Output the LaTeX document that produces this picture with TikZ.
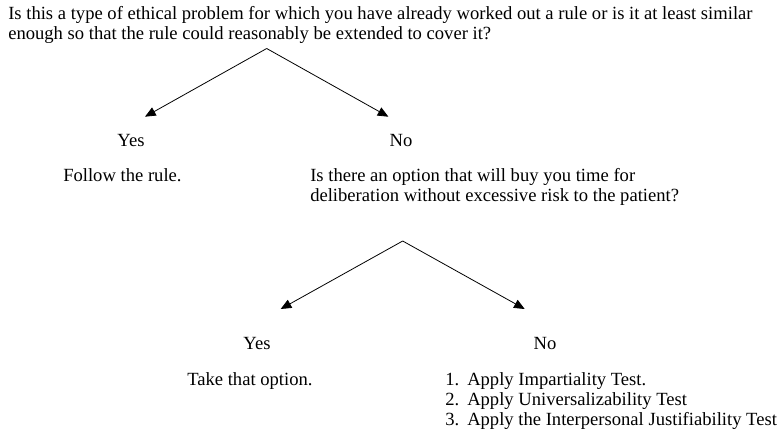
\documentclass[tikz,border=0pt]{standalone}
\usepackage{fontspec}
\setmainfont{Liberation Serif}
\usetikzlibrary{arrows.meta}
\begin{document}
\begin{tikzpicture}[x=0.75pt,y=-0.75pt,
  txt/.style={anchor=base west,inner sep=0pt,font=\fontsize{13.95pt}{15pt}\selectfont},
  lbl/.style={anchor=base,inner sep=0pt,font=\fontsize{13.95pt}{15pt}\selectfont},
  branch/.style={line width=0.6pt,-{Triangle[length=8pt,width=6.8pt]}}]
\useasboundingbox (0,0) rectangle (783,433);
% question 1
\node[txt] (q1a) at (8,19) {Is this a type of ethical problem for which you have already worked out a rule or is it at least similar};
\node[txt] (q1b) at (8,39) {enough so that the rule could reasonably be extended to cover it?};
\coordinate (apex1) at (266.7,48.5);
\coordinate (tipY1) at (145,116.7);
\coordinate (tipN1) at (388.4,116.7);
\draw[branch] (apex1) -- (tipY1);
\draw[branch] (apex1) -- (tipN1);
\node[lbl] (yes1) at (131,146) {Yes};
\node[lbl] (no1) at (401,146) {No};
\node[txt] (follow) at (63,181) {Follow the rule.};
% question 2
\node[txt] (q2a) at (310,181) {Is there an option that will buy you time for};
\node[txt] (q2b) at (310,201) {deliberation without excessive risk to the patient?};
\coordinate (apex2) at (402.7,241);
\coordinate (tipY2) at (280.7,309);
\coordinate (tipN2) at (524.7,309);
\draw[branch] (apex2) -- (tipY2);
\draw[branch] (apex2) -- (tipN2);
\node[lbl] (yes2) at (257,349) {Yes};
\node[lbl] (no2) at (545,349) {No};
\node[txt] (take) at (187,385.5) {Take that option.};
\node[txt] (step1) at (445,385.5) {\makebox[16.5pt][l]{1.}Apply Impartiality Test.};
\node[txt] (step2) at (445,405.5) {\makebox[16.5pt][l]{2.}Apply Universalizability Test};
\node[txt] (step3) at (445,425.5) {\makebox[16.5pt][l]{3.}Apply the Interpersonal Justifiability Test};
\end{tikzpicture}
\end{document}
